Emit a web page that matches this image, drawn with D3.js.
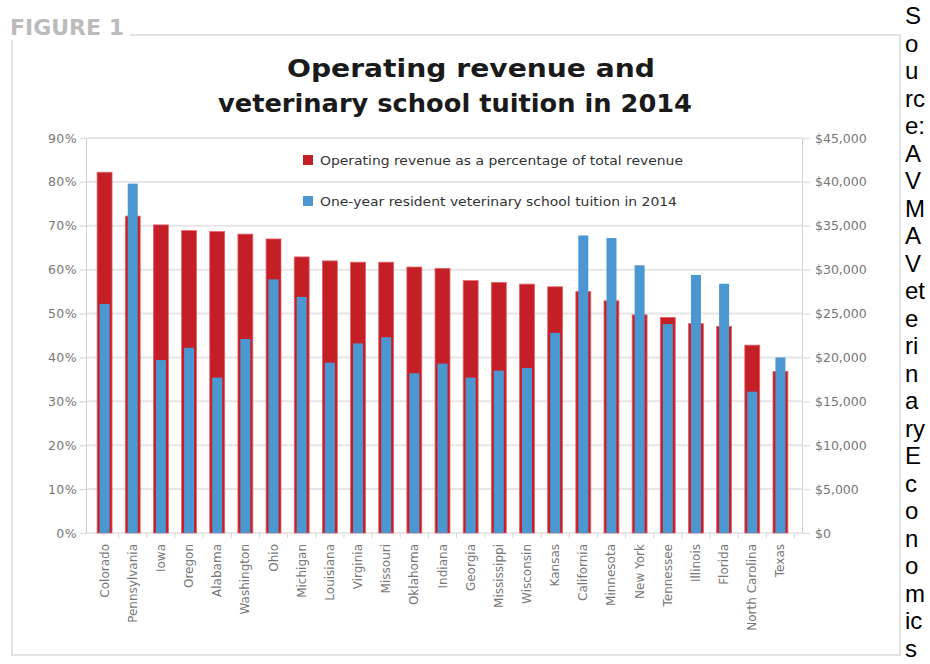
<!DOCTYPE html>
<html>
<head>
<meta charset="utf-8">
<script src="https://cdnjs.cloudflare.com/ajax/libs/d3/7.8.5/d3.min.js"></script>
<style>
  body { margin: 0; background: #fff; }
  svg { display: block; }
</style>
</head>
<body>
<div id="chart-area"></div>
<script>
// data
const states = [
    "Colorado", "Pennsylvania", "Iowa", "Oregon", "Alabama", "Washington", "Ohio",
    "Michigan", "Louisiana", "Virginia", "Missouri", "Oklahoma", "Indiana", "Georgia",
    "Mississippi", "Wisconsin", "Kansas", "California", "Minnesota", "New York",
    "Tennessee", "Illinois", "Florida", "North Carolina", "Texas"
];
// operating revenue as % of total revenue
const operatingPct = [
    82.2, 72.2, 70.2, 68.9, 68.7, 68.1, 67.0, 62.9, 62.0, 61.7, 61.7, 60.6, 60.3,
    57.5, 57.1, 56.7, 56.1, 55.0, 52.9, 49.7, 49.1, 47.7, 47.1, 42.8, 36.8
];
// one-year resident tuition, dollars
const tuition = [
    26100, 39800, 19700, 21100, 17700, 22100, 28900, 26900, 19400, 21600, 22300,
    18200, 19300, 17700, 18500, 18800, 22800, 33900, 33600, 30500, 23800, 29400,
    28400, 16100, 20000
];
const pctTicks = [0, 10, 20, 30, 40, 50, 60, 70, 80, 90];
const dollarTicks = [0, 5000, 10000, 15000, 20000, 25000, 30000, 35000, 40000, 45000];
const legendLabels = [
    "Operating revenue as a percentage of total revenue",
    "One-year resident veterinary school tuition in 2014"
];
const titleLines = ["Operating revenue and", "veterinary school tuition in 2014"];
const sourceLines = ["S", "o", "u", "rc", "e:", "A", "V", "M", "A", "V", "et", "e", "ri",
    "n", "a", "ry", "E", "c", "o", "n", "o", "m", "ic", "s"];

const width = 930;
const height = 664;

const plot = { left: 86, right: 802, top: 138, bottom: 533 };

const red = "#c41f26";
const blue = "#4b97d1";
const tickGray = "#777";

const svg = d3.select("#chart-area")
    .append("svg")
        .attr("width", width)
        .attr("height", height)
        .style("background", "#fff");

// figure frame + label
svg.append("rect")
    .attr("x", 12).attr("y", 35)
    .attr("width", 888).attr("height", 620)
    .attr("fill", "none")
    .attr("stroke", "#e2e2e2")
    .attr("stroke-width", 2);

svg.append("rect")
    .attr("x", 0).attr("y", 10)
    .attr("width", 130).attr("height", 30)
    .attr("fill", "#fff");

svg.append("text")
    .attr("x", 10).attr("y", 35)
    .attr("font-family", "DejaVu Sans")
    .attr("font-weight", "bold")
    .attr("font-size", 21)
    .attr("fill", "#bbbbbb")
    .attr("textLength", 114)
    .attr("lengthAdjust", "spacingAndGlyphs")
    .text("FIGURE 1");

// title
const titleCenters = [471, 455];
svg.append("g").selectAll("text")
    .data(titleLines)
    .enter()
    .append("text")
    .attr("x", (d, i) => titleCenters[i])
    .attr("y", (d, i) => 77 + i * 35)
    .attr("text-anchor", "middle")
    .attr("font-family", "DejaVu Sans")
    .attr("font-weight", "bold")
    .attr("font-size", 25)
    .attr("fill", "#1a1a1a")
    .attr("textLength", (d, i) => i === 0 ? 368 : 474)
    .attr("lengthAdjust", "spacingAndGlyphs")
    .text(d => d);

// scales
const xScale = d3.scaleBand()
    .domain(states)
    .range([plot.left - 1, plot.right - 2])
    .paddingInner(0.47)
    .paddingOuter(0.43);

const yPct = d3.scaleLinear()
    .domain([0, 90])
    .range([plot.bottom, plot.top]);

const yDollar = d3.scaleLinear()
    .domain([0, 45000])
    .range([plot.bottom, plot.top]);

// gridlines
svg.append("g")
    .selectAll("line")
    .data(pctTicks.slice(1))
    .enter()
    .append("line")
    .attr("x1", plot.left)
    .attr("x2", plot.right)
    .attr("y1", d => yPct(d))
    .attr("y2", d => yPct(d))
    .attr("stroke", "#e6e6e6")
    .attr("stroke-width", 2);

// left axis
const leftAxis = svg.append("g")
    .attr("transform", `translate(${plot.left}, 0)`)
    .call(d3.axisLeft(yPct).tickValues(pctTicks).tickFormat(d => d + "%").tickSize(6).tickPadding(3));

// right axis
const rightAxis = svg.append("g")
    .attr("transform", `translate(${plot.right}, 0)`)
    .call(d3.axisRight(yDollar).tickValues(dollarTicks).tickFormat(d => "$" + d3.format(",")(d)).tickSize(8).tickPadding(5));

for (const ax of [leftAxis, rightAxis]) {
    ax.select(".domain").attr("stroke", "#d0d0d0");
    ax.selectAll(".tick line").attr("stroke", "#e0e0e0").attr("stroke-width", 1.5);
    ax.selectAll(".tick text")
        .attr("font-family", "DejaVu Sans")
        .attr("font-size", 12.5)
        .attr("fill", tickGray);
}
leftAxis.selectAll(".tick text").attr("letter-spacing", "0.4");

// bottom axis line with ticks between the bars
svg.append("line")
    .attr("x1", plot.left).attr("x2", plot.right)
    .attr("y1", plot.bottom).attr("y2", plot.bottom)
    .attr("stroke", "#d0d0d0");

const step = xScale.step();
svg.append("g")
    .selectAll("line")
    .data(states)
    .enter()
    .append("line")
    .attr("x1", d => xScale(d) + xScale.bandwidth() / 2 + step / 2)
    .attr("x2", d => xScale(d) + xScale.bandwidth() / 2 + step / 2)
    .attr("y1", plot.bottom)
    .attr("y2", plot.bottom + 5)
    .attr("stroke", "#d8d8d8");

// red bars (operating revenue, left scale)
svg.append("g")
    .selectAll("rect")
    .data(states)
    .enter()
    .append("rect")
    .attr("x", d => xScale(d))
    .attr("width", xScale.bandwidth())
    .attr("y", (d, i) => yPct(operatingPct[i]))
    .attr("height", (d, i) => plot.bottom - yPct(operatingPct[i]))
    .attr("fill", red)
    .attr("stroke", "#e2646a")
    .attr("stroke-width", 0.8);

// blue bars (tuition, right scale) drawn on top, narrower
const blueWidth = 10;
svg.append("g")
    .selectAll("rect")
    .data(states)
    .enter()
    .append("rect")
    .attr("x", d => xScale(d) + (xScale.bandwidth() - blueWidth) / 2)
    .attr("width", blueWidth)
    .attr("y", (d, i) => yDollar(tuition[i]))
    .attr("height", (d, i) => plot.bottom - yDollar(tuition[i]))
    .attr("fill", blue);

// state labels, rotated
svg.append("g")
    .selectAll("text")
    .data(states)
    .enter()
    .append("text")
    .attr("transform", d => `translate(${xScale(d) + xScale.bandwidth() / 2 + 4}, ${plot.bottom + 11}) rotate(-90)`)
    .attr("text-anchor", "end")
    .attr("font-family", "DejaVu Sans")
    .attr("font-size", 12)
    .attr("fill", tickGray)
    .text(d => d);

// legend
const legendColors = [red, blue];
const legend = svg.append("g")
    .selectAll("g")
    .data(legendLabels)
    .enter()
    .append("g")
    .attr("transform", (d, i) => `translate(303, ${160 + i * 41})`);

legend.append("rect")
    .attr("x", 0).attr("y", -5)
    .attr("width", 10).attr("height", 10)
    .attr("fill", (d, i) => legendColors[i]);

legend.append("text")
    .attr("x", 17)
    .attr("y", 4.5)
    .attr("font-family", "DejaVu Sans")
    .attr("font-size", 12.5)
    .attr("fill", "#333")
    .attr("textLength", (d, i) => i === 0 ? 363 : 357)
    .attr("lengthAdjust", "spacingAndGlyphs")
    .text(d => d);

// source note squeezed into the narrow right column
svg.append("g")
    .selectAll("text")
    .data(sourceLines)
    .enter()
    .append("text")
    .attr("x", 905)
    .attr("y", (d, i) => 24 + i * 27.5)
    .attr("font-family", "Liberation Sans, Arial")
    .attr("font-size", 24)
    .attr("fill", "#000")
    .text(d => d);
</script>
</body>
</html>
